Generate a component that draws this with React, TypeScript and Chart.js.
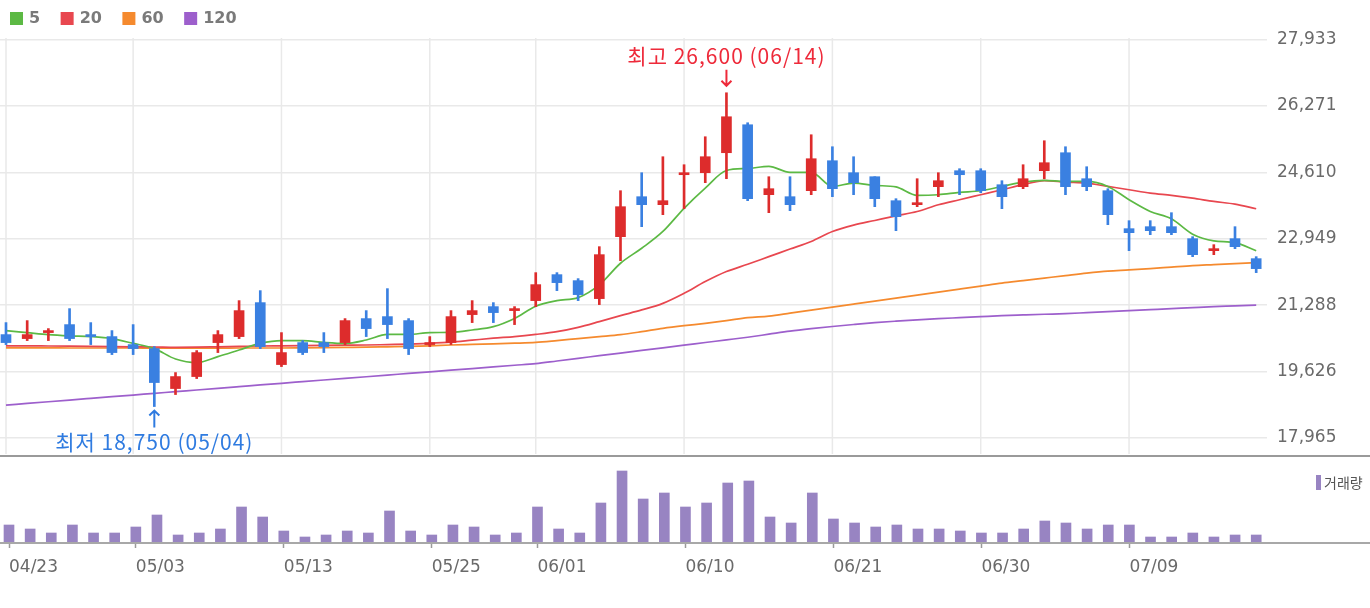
import React, { useEffect, useRef } from "react";
import { Chart, registerables } from "chart.js";

Chart.register(...registerables);

// ---------- data ----------
const dates = [
  "04/23", "04/26", "04/27", "04/28", "04/29", "04/30", "05/03", "05/04", "05/06", "05/07",
  "05/10", "05/11", "05/12", "05/13", "05/14", "05/17", "05/18", "05/20", "05/21", "05/24",
  "05/25", "05/26", "05/27", "05/28", "05/31", "06/01", "06/02", "06/03", "06/04", "06/07",
  "06/08", "06/09", "06/10", "06/11", "06/14", "06/15", "06/16", "06/17", "06/18", "06/21",
  "06/22", "06/23", "06/24", "06/25", "06/28", "06/29", "06/30", "07/01", "07/02", "07/05",
  "07/06", "07/07", "07/08", "07/09", "07/12", "07/13", "07/14", "07/15", "07/16", "07/19",
];

const opens = [
  20550, 20450, 20600, 20800, 20550, 20500, 20300, 20200, 19200, 19500,
  20350, 20500, 21350, 19800, 20350, 20350, 20350, 20950, 21000, 20900,
  20300, 20350, 21050, 21250, 21150, 21400, 22050, 21900, 21450, 23000,
  24000, 23800, 24550, 24600, 25100, 25800, 24050, 24000, 24150, 24900,
  24600, 24500, 23900, 23800, 24250, 24650, 24650, 24300, 24250, 24650,
  25100, 24450, 24150, 23200, 23250, 23250, 22950, 22650, 22950, 22450,
];
const highs = [
  20850, 20900, 20700, 21200, 20850, 20650, 20800, 20250, 19600, 20150,
  20650, 21400, 21650, 20600, 20400, 20600, 20950, 21150, 21700, 20950,
  20500, 21150, 21400, 21350, 21250, 22100, 22100, 21950, 22750, 24150,
  24600, 25000, 24800, 25500, 26600, 25850, 24500, 24500, 25550, 25250,
  25000, 24500, 23950, 24450, 24600, 24700, 24700, 24400, 24800, 25400,
  25250, 24750, 24200, 23400, 23400, 23600, 23000, 22800, 23250, 22500,
];
const lows = [
  20300, 20400, 20400, 20400, 20300, 20050, 20050, 18750, 19050, 19450,
  20100, 20450, 20200, 19750, 20050, 20100, 20300, 20500, 20450, 20050,
  20250, 20300, 20850, 20850, 20800, 21250, 21650, 21400, 21300, 22400,
  23250, 23550, 23700, 24350, 24450, 23900, 23600, 23650, 24050, 24000,
  24050, 23750, 23150, 23750, 24000, 24050, 24100, 23700, 24200, 24450,
  24050, 24150, 23300, 22650, 23050, 23050, 22500, 22550, 22700, 22100,
];
const closes = [
  20350, 20550, 20650, 20450, 20500, 20100, 20200, 19350, 19500, 20100,
  20550, 21150, 20250, 20100, 20100, 20250, 20900, 20700, 20800, 20200,
  20350, 21000, 21150, 21100, 21200, 21800, 21850, 21550, 22550, 23750,
  23800, 23900, 24600, 25000, 26000, 23950, 24200, 23800, 24950, 24200,
  24350, 23950, 23500, 23850, 24400, 24550, 24150, 24000, 24450, 24850,
  24250, 24250, 23550, 23100, 23150, 23100, 22550, 22700, 22750, 22200,
];

const ma5 = [
  20650, 20600, 20550, 20520, 20500, 20450, 20330, 20200, 19940, 19850,
  20000, 20165, 20330, 20400, 20400, 20355, 20330, 20415, 20555, 20555,
  20600, 20605, 20665, 20750, 20955, 21260, 21400, 21475, 21795, 22335,
  22710, 23130, 23710, 24215, 24655, 24705, 24758, 24608, 24608, 24257,
  24340, 24282, 24245, 24032, 24049, 24107, 24149, 24257, 24365, 24407,
  24382, 24382, 24257, 23924, 23631, 23447, 23062, 22896, 22853, 22646,
];
const ma20 = [
  20270, 20270, 20265, 20260, 20255, 20250, 20245, 20240, 20230, 20235,
  20245, 20255, 20265, 20270, 20275, 20280, 20285, 20290, 20300, 20310,
  20330, 20360, 20410, 20460, 20500, 20555, 20623, 20731, 20874, 21024,
  21167, 21332, 21583, 21876, 22127, 22310, 22500, 22690, 22880, 23130,
  23290, 23405, 23520, 23630, 23798, 23924, 24049, 24174, 24300, 24400,
  24365, 24340, 24257, 24174, 24089, 24032, 23964, 23881, 23813, 23698,
];
const ma60 = [
  20220, 20220, 20220, 20215, 20215, 20215, 20215, 20210, 20210, 20210,
  20210, 20215, 20215, 20215, 20220, 20225, 20230, 20235, 20245, 20255,
  20270, 20290, 20305, 20320, 20335, 20355, 20400, 20450, 20498, 20548,
  20623, 20706, 20773, 20831, 20899, 20974, 21014, 21087, 21162, 21237,
  21312, 21387, 21462, 21537, 21613, 21688, 21763, 21838, 21901, 21964,
  22027, 22089, 22140, 22169, 22202, 22240, 22277, 22302, 22327, 22352,
];
const ma120 = [
  18786, 18828, 18870, 18912, 18954, 18996, 19038, 19080, 19122, 19164,
  19206, 19248, 19290, 19332, 19373, 19414, 19455, 19496, 19537, 19578,
  19619, 19660, 19701, 19742, 19783, 19824, 19890, 19956, 20022, 20088,
  20154, 20220, 20286, 20352, 20418, 20484, 20560, 20636, 20698, 20753,
  20803, 20849, 20886, 20919, 20949, 20974, 20999, 21024, 21042, 21059,
  21074, 21099, 21124, 21149, 21174, 21199, 21225, 21250, 21267, 21287,
];

const volumes = [
  180000, 140000, 100000, 180000, 100000, 100000, 160000, 280000, 80000, 100000,
  140000, 360000, 260000, 120000, 60000, 80000, 120000, 100000, 320000, 120000,
  80000, 180000, 160000, 80000, 100000, 360000, 140000, 100000, 400000, 720000,
  440000, 500000, 360000, 400000, 600000, 620000, 260000, 200000, 500000, 240000,
  200000, 160000, 180000, 140000, 140000, 120000, 100000, 100000, 140000, 220000,
  200000, 140000, 180000, 180000, 60000, 60000, 100000, 60000, 80000, 80000,
];

const xTickIndices = [0, 6, 13, 20, 25, 32, 39, 46, 53];
const priceTicks = [17965, 19626, 21288, 22949, 24610, 26271, 27933];
const maLabels = ["5", "20", "60", "120"];
const maColors = ["#5cb944", "#e8474f", "#f58a2e", "#9d5fcc"];
const volumeLabel = "거래량";

// ---------- styling ----------
const UP = "#dd2c2c";
const DOWN = "#3a80e1";
const VOL_COLOR = "#9884c2";
const GRID = "#e9e9e9";
const X_MIN = -0.283;
const X_MAX = 59.51;
const P_MIN = 17565;
const P_MAX = 27970;
const W = 1370;
const MAIN_H = 454;
const VOL_H = 154;

const fmt = (v: number) => Math.round(v).toLocaleString("en-US");

export default function App() {
  const mainRef = useRef<HTMLCanvasElement | null>(null);
  const volRef = useRef<HTMLCanvasElement | null>(null);

  useEffect(() => {
    const idx = dates.map((_, i) => i);
    const cColor = idx.map((i) => (closes[i] >= opens[i] ? UP : DOWN));
    const mas = [ma5, ma20, ma60, ma120];

    const overlayMain = {
      id: "overlayMain",
      beforeDatasetsDraw(chart: any) {
        const ctx = chart.ctx;
        const xs = chart.scales.x;
        const area = chart.chartArea;
        ctx.save();
        ctx.strokeStyle = GRID;
        ctx.lineWidth = 1.5;
        xTickIndices.forEach((t) => {
          const px = xs.getPixelForValue(t);
          ctx.beginPath();
          ctx.moveTo(px, area.top);
          ctx.lineTo(px, area.bottom);
          ctx.stroke();
        });
        ctx.restore();
      },
      afterDatasetsDraw(chart: any) {
        const ctx = chart.ctx;
        const xs = chart.scales.x;
        const ys = chart.scales.y;
        ctx.save();
        // legend
        ctx.font = "bold 16px 'DejaVu Sans'";
        ctx.textBaseline = "middle";
        ctx.textAlign = "left";
        let lx = 10;
        maLabels.forEach((lab, k) => {
          ctx.fillStyle = maColors[k];
          ctx.fillRect(lx, 12, 13, 13);
          ctx.fillStyle = "#7a7a7a";
          ctx.fillText(lab, lx + 19, 19);
          lx += 19 + ctx.measureText(lab).width + 20.5;
        });

        // high / low annotations
        let hi = 0;
        let lo = 0;
        highs.forEach((v, i) => { if (v > highs[hi]) hi = i; });
        lows.forEach((v, i) => { if (v < lows[lo]) lo = i; });

        ctx.font = "21px 'Noto Sans CJK KR'";
        (ctx as any).letterSpacing = "1px";
        ctx.textAlign = "center";
        ctx.lineWidth = 2;

        const hx = xs.getPixelForValue(hi);
        const hy = ys.getPixelForValue(highs[hi]);
        ctx.fillStyle = "#ee2a3a";
        ctx.strokeStyle = "#ee2a3a";
        ctx.fillText(`최고 ${fmt(highs[hi])} (${dates[hi]})`, hx, hy - 37);
        ctx.beginPath();
        ctx.moveTo(hx, hy - 23);
        ctx.lineTo(hx, hy - 7);
        ctx.moveTo(hx - 5, hy - 12);
        ctx.lineTo(hx, hy - 7);
        ctx.lineTo(hx + 5, hy - 12);
        ctx.stroke();

        const lxp = xs.getPixelForValue(lo);
        const lyp = ys.getPixelForValue(lows[lo]);
        ctx.fillStyle = "#2f7be0";
        ctx.strokeStyle = "#2f7be0";
        ctx.fillText(`최저 ${fmt(lows[lo])} (${dates[lo]})`, lxp, lyp + 35);
        ctx.beginPath();
        ctx.moveTo(lxp, lyp + 21);
        ctx.lineTo(lxp, lyp + 4);
        ctx.moveTo(lxp - 5, lyp + 9);
        ctx.lineTo(lxp, lyp + 4);
        ctx.lineTo(lxp + 5, lyp + 9);
        ctx.stroke();
        (ctx as any).letterSpacing = "0px";
        ctx.restore();
      },
    };

    const mainChart = new Chart(mainRef.current as HTMLCanvasElement, {
      type: "bar",
      data: {
        datasets: [
          {
            type: "bar",
            label: "body",
            data: idx.map((i) => ({ x: i, y: [opens[i], closes[i]] })) as any,
            backgroundColor: cColor,
            barThickness: 10,
            minBarLength: 2,
            grouped: false,
            borderWidth: 0,
            order: 0,
          } as any,
          {
            type: "bar",
            label: "wick",
            data: idx.map((i) => ({ x: i, y: [lows[i], highs[i]] })) as any,
            backgroundColor: cColor,
            barThickness: 2,
            grouped: false,
            borderWidth: 0,
            order: 1,
          } as any,
          ...mas.map((m, k) => ({
            type: "line",
            label: maLabels[k],
            data: idx.map((i) => ({ x: i, y: m[i] })),
            borderColor: maColors[k],
            backgroundColor: maColors[k],
            borderWidth: 1.7,
            pointRadius: 0,
            cubicInterpolationMode: "monotone",
            order: 2 + k,
          })) as any,
        ],
      },
      options: {
        animation: false,
        responsive: false,
        devicePixelRatio: 1,
        layout: { padding: { top: 38, left: 0, right: 0, bottom: 0 } },
        plugins: { legend: { display: false }, tooltip: { enabled: false } },
        scales: {
          x: {
            type: "linear",
            display: false,
            min: X_MIN,
            max: X_MAX,
            offset: false,
            grid: { offset: false },
          },
          y: {
            type: "linear",
            position: "right",
            min: P_MIN,
            max: P_MAX,
            grid: {
              color: GRID,
              lineWidth: 1.5,
              drawTicks: true,
              tickLength: 10,
              tickColor: "rgba(0,0,0,0)",
            },
            border: { display: false },
            ticks: {
              padding: 0,
              color: "#6a6a6a",
              font: { family: "'DejaVu Sans'", size: 17, lineHeight: 0.01 },
              callback: (v: any) => fmt(Number(v)),
            },
            afterBuildTicks: (s: any) => { s.ticks = priceTicks.map((v) => ({ value: v })); },
            afterFit: (s: any) => { s.width = W - 1267; },
          },
        },
      } as any,
      plugins: [overlayMain],
    });

    const overlayVol = {
      id: "overlayVol",
      afterDatasetsDraw(chart: any) {
        const ctx = chart.ctx;
        const area = chart.chartArea;
        ctx.save();
        ctx.fillStyle = "#9a9a9a";
        ctx.fillRect(0, 1, W, 2);
        ctx.fillStyle = "#a8a8a8";
        ctx.fillRect(0, area.bottom - 1, W, 2);
        ctx.fillStyle = VOL_COLOR;
        ctx.fillRect(1316, 21, 5, 15);
        ctx.fillStyle = "#555";
        ctx.font = "14px 'Noto Sans CJK KR'";
        ctx.textBaseline = "middle";
        ctx.textAlign = "left";
        ctx.fillText(volumeLabel, 1324, 28.5);
        ctx.restore();
      },
    };

    const volChart = new Chart(volRef.current as HTMLCanvasElement, {
      type: "bar",
      data: {
        datasets: [
          {
            label: volumeLabel,
            data: idx.map((i) => ({ x: i, y: volumes[i] })) as any,
            backgroundColor: VOL_COLOR,
            barThickness: 10,
            borderWidth: 0,
          } as any,
        ],
      },
      options: {
        animation: false,
        responsive: false,
        devicePixelRatio: 1,
        layout: { padding: { top: 4, left: 0, right: W - 1267, bottom: 0 } },
        plugins: { legend: { display: false }, tooltip: { enabled: false } },
        scales: {
          x: {
            type: "linear",
            min: X_MIN,
            max: X_MAX,
            offset: false,
            grid: {
              drawOnChartArea: false,
              drawTicks: true,
              tickLength: 5,
              tickColor: "#9a9a9a",
              tickWidth: 1.5,
              offset: false,
            },
            border: { display: false },
            ticks: {
              align: "start",
              padding: 9,
              maxRotation: 0,
              autoSkip: false,
              color: "#6a6a6a",
              font: { family: "'DejaVu Sans'", size: 17 },
              callback: (v: any) => dates[Number(v)] ?? "",
            },
            afterBuildTicks: (s: any) => { s.ticks = xTickIndices.map((v) => ({ value: v })); },
            afterFit: (s: any) => { s.height = 65; },
          },
          y: { display: false, min: 0, max: 850000 },
        },
      } as any,
      plugins: [overlayVol],
    });

    return () => {
      mainChart.destroy();
      volChart.destroy();
    };
  }, []);

  return (
    <div style={{ position: "absolute", left: 0, top: 0, width: W, height: 608, background: "#fff" }}>
      <canvas
        ref={mainRef}
        width={W}
        height={MAIN_H}
        style={{ position: "absolute", left: 0, top: 0, display: "block" }}
      />
      <canvas
        ref={volRef}
        width={W}
        height={VOL_H}
        style={{ position: "absolute", left: 0, top: MAIN_H, display: "block" }}
      />
    </div>
  );
}
